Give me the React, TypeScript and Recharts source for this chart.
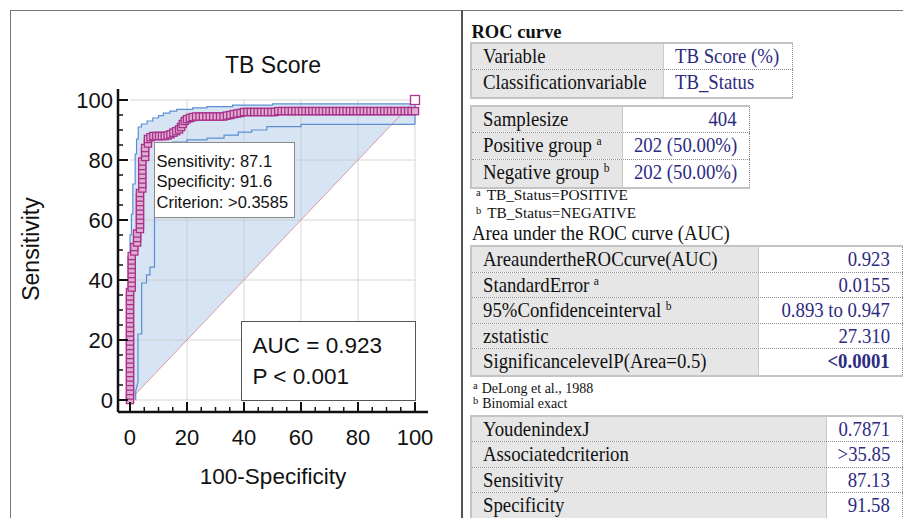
import React from "react";
import { ComposedChart, XAxis, YAxis, Area, Line, Scatter } from "recharts";

// ROC curve points: [100-Specificity, Sensitivity]
const rocCurve: [number, number][] = [
  [0, 0], [0, 1.5], [0, 3], [0, 4.5], [0, 6], [0, 7.5], [0, 9], [0, 10.5], [0, 12], [0, 13.5], [0, 15], [0, 16.5],
  [0, 18], [0, 19.5], [0, 21], [0, 22.5], [0, 24], [0, 25.5], [0, 27], [0, 28.5], [0, 30], [0, 31.5], [0, 33],
  [0, 34.5], [0, 36],
  [0.6, 37.5], [0.6, 39], [0.6, 40.5], [0.6, 42], [0.6, 43.5], [0.6, 45], [0.6, 46.5], [0.6, 48],
  [1.5, 49.5], [1.5, 51],
  [2.5, 52.5], [2.5, 54], [2.5, 55.5],
  [3.5, 57], [3.5, 58.5], [3.5, 60], [3.5, 61.5], [3.5, 63], [3.5, 64.5], [3.5, 66], [3.5, 67.5], [3.5, 69],
  [4.3, 70.5], [4.3, 72], [4.3, 73.5], [4.3, 75], [4.3, 76.5], [4.3, 78], [4.3, 79.5],
  [5.3, 81], [5.3, 82.5], [5.3, 84],
  [6.3, 85.5], [6.3, 87],
  [7.2, 87.6], [8.2, 88], [9.2, 88], [10.2, 88], [11.2, 88], [12.2, 88], [13.2, 88.2], [14.2, 88.6], [15.2, 89.1],
  [16.2, 89.6], [17.2, 90.2], [17.9, 91], [18.5, 92], [19.2, 93], [20, 93.6], [21, 94], [22, 94.3],
  [23.2, 94.5], [24.4, 94.5], [25.6, 94.5], [26.8, 94.5], [28, 94.5], [29.2, 94.5], [30.4, 94.5], [31.6, 94.5],
  [32.8, 94.5], [34, 94.8], [35.2, 95], [36.4, 95.3], [37.6, 95.5], [38.8, 95.7],
  [40, 96], [41.2, 96], [42.4, 96], [43.6, 96], [44.8, 96], [46, 96], [47.2, 96], [48.4, 96], [49.6, 96], [50.8, 96],
  [52, 96.3], [53.2, 96.3], [54.4, 96.3], [55.6, 96.3], [56.8, 96.3], [58, 96.3], [59.2, 96.3], [60.4, 96.3],
  [61.6, 96.3], [62.8, 96.3], [64, 96.3], [65.2, 96.3], [66.4, 96.3], [67.6, 96.3], [68.8, 96.3], [70, 96.3],
  [71.2, 96.3], [72.4, 96.3], [73.6, 96.3], [74.8, 96.3], [76, 96.3], [77.2, 96.3], [78.4, 96.3], [79.6, 96.3],
  [80.8, 96.3], [82, 96.3], [83.2, 96.3], [84.4, 96.3], [85.6, 96.3], [86.8, 96.3], [88, 96.3], [89.2, 96.3],
  [90.4, 96.3], [91.6, 96.3], [92.8, 96.3], [94, 96.3], [95.2, 96.3], [96.4, 96.3], [97.6, 96.3], [98.8, 96.3],
  [100, 96.3],
];
const endPoint: [number, number][] = [[100, 100]];

// 95% confidence bounds
const upperCi: [number, number][] = [
  [0, 0], [0, 55], [0.5, 55], [0.5, 62], [1, 62], [1, 72], [1.8, 72], [1.8, 82], [2.3, 82], [2.3, 87], [2.9, 87],
  [2.9, 91], [4, 91], [4, 92], [6, 92], [6, 93], [8, 93], [8, 94], [10, 94], [10, 94.8], [11.7, 94.8], [11.7, 95.6],
  [14, 95.6], [14, 96.3], [16.4, 96.3], [16.4, 96.9], [22, 96.9], [22, 97.4], [27, 97.4], [27, 97.8], [36, 97.8],
  [36, 98.3], [50, 98.3], [50, 98.7], [100, 98.7], [100, 91.9],
];
const lowerCi: [number, number][] = [
  [2, 0], [2, 3], [2.8, 6], [2.8, 22], [4.1, 22], [4.1, 39], [5.8, 39], [5.8, 41.7], [7, 41.7], [7, 44.3],
  [8.6, 44.3], [8.6, 62], [9.8, 62], [9.8, 84], [11, 84], [11, 85], [15, 85], [15, 86], [20, 86], [20, 86.7],
  [27, 86.7], [27, 87.3], [33, 87.3], [33, 88.3], [38, 88.3], [38, 89.3], [42.7, 89.3], [42.7, 90], [48, 90],
  [48, 91.1], [60, 91.1], [60, 91.9], [100, 91.9],
];
// shaded band: [x, lower edge, upper edge]
const ciBand: [number, number, number][] = [
  [0, 0, 55], [0.5, 0.5, 55], [0.5, 0.5, 62], [1, 1, 62], [1, 1, 72], [1.8, 1.8, 72], [1.8, 1.8, 82],
  [2.3, 2.3, 82], [2.3, 2.3, 87], [2.9, 2.9, 87], [2.9, 2.9, 91], [4, 4, 91], [4, 4, 92], [6, 6, 92], [6, 6, 93],
  [8, 8, 93], [8, 8, 94], [10, 10, 94], [10, 10, 94.8], [11.7, 11.7, 94.8], [11.7, 11.7, 95.6], [14, 14, 95.6],
  [14, 14, 96.3], [16.4, 16.4, 96.3], [16.4, 16.4, 96.9], [22, 22, 96.9], [22, 22, 97.4], [27, 27, 97.4],
  [27, 27, 97.8], [36, 36, 97.8], [36, 36, 98.3], [50, 50, 98.3], [50, 50, 98.7], [91.9, 91.9, 98.7],
  [100, 91.9, 98.7],
];
const diagonal: [number, number][] = [[0, 0], [100, 100]];

const X_DOMAIN: [number, number] = [-4.21, 104.56];
const Y_DOMAIN: [number, number] = [-4, 103.67];
const axisTicks = [0, 5, 10, 15, 20, 25, 30, 35, 40, 45, 50, 55, 60, 65, 70, 75, 80, 85, 90, 95, 100];
const majorTicks = [0, 20, 40, 60, 80, 100];
const gridValues = [20, 40, 60, 80];

const table1 = [
  { label: "Variable", value: "TB Score (%)" },
  { label: "Classificationvariable", value: "TB_Status" },
];
const table2 = [
  { label: "Samplesize", value: "404" },
  { label: "Positive group", sup: "a", value: "202 (50.00%)" },
  { label: "Negative group", sup: "b", value: "202 (50.00%)" },
];
const table3 = [
  { label: "AreaundertheROCcurve(AUC)", value: "0.923" },
  { label: "StandardError", sup: "a", value: "0.0155" },
  { label: "95%Confidenceinterval", sup: "b", value: "0.893 to 0.947" },
  { label: "zstatistic", value: "27.310" },
  { label: "SignificancelevelP(Area=0.5)", value: "<0.0001", bold: true },
];
const table4 = [
  { label: "YoudenindexJ", value: "0.7871" },
  { label: "Associatedcriterion", value: ">35.85" },
  { label: "Sensitivity", value: "87.13" },
  { label: "Specificity", value: "91.58" },
];

const SANS = '"Liberation Sans", Arial, sans-serif';
const SERIF = '"Liberation Serif", "Times New Roman", serif';
const VALUE_COLOR = "#2d2a82";

const toXY = (arr: [number, number][]) => arr.map(([x, y]) => ({ x, y }));

const XTick = (props: any) => {
  const { x, y, payload } = props;
  const v = payload.value;
  const major = majorTicks.includes(v);
  return (
    <g>
      <line x1={x} y1={y} x2={x} y2={y - (major ? 10 : 5)} stroke="#111" strokeWidth={major ? 2 : 1.5} />
      {major && (
        <text x={x} y={y + 32.5} textAnchor="middle" fontSize={22} fontFamily={SANS} fill="#111">
          {v}
        </text>
      )}
    </g>
  );
};

const YTick = (props: any) => {
  const { x, y, payload } = props;
  const v = payload.value;
  const major = majorTicks.includes(v);
  return (
    <g>
      <line x1={x} y1={y} x2={x + (major ? 10 : 5)} y2={y} stroke="#111" strokeWidth={major ? 2 : 1.5} />
      {major && (
        <text x={x - 5} y={y + 8} textAnchor="end" fontSize={22} fontFamily={SANS} fill="#111">
          {v}
        </text>
      )}
    </g>
  );
};

const Marker = (props: any) => {
  const { cx, cy } = props;
  return <rect x={cx - 3.6} y={cy - 3.6} width={7.2} height={7.2} fill="#e0add2" stroke="#a8318a" strokeWidth={1.3} />;
};
const EndMarker = (props: any) => {
  const { cx, cy } = props;
  return <rect x={cx - 4.5} y={cy - 4.5} width={9} height={9} fill="#ffffff" stroke="#b0348c" strokeWidth={1.3} />;
};

const Sx = ({ children, origin }: any) => (
  <span style={{ display: "inline-block", transform: "scaleX(0.92)", transformOrigin: origin, whiteSpace: "nowrap" }}>
    {children}
  </span>
);

const Sup = ({ c }: any) => (
  <span style={{ fontSize: "0.62em", position: "relative", top: "-0.55em", marginLeft: 5 }}>{c}</span>
);

function StatTable({ left, top, labelW, valueW, rowH, rows, align, padL }: any) {
  return (
    <div
      style={{
        position: "absolute",
        left,
        top,
        width: labelW + valueW,
        borderLeft: "2px solid #c4c4c4",
        borderTop: "2px solid #c4c4c4",
        borderBottom: "2px solid #c4c4c4",
        boxSizing: "border-box",
        fontFamily: SERIF,
        fontSize: 20.4,
      }}
    >
      {rows.map((r: any, i: number) => (
        <div
          key={i}
          style={{
            display: "flex",
            height: rowH,
            boxSizing: "border-box",
            borderBottom: i < rows.length - 1 ? "1px dotted #8d8d8d" : "none",
            lineHeight: `${rowH - 1}px`,
          }}
        >
          <div
            style={{
              width: labelW - 2,
              background: "#e6e6e6",
              borderRight: "1px solid #c9c9c9",
              boxSizing: "border-box",
              paddingLeft: 10.5,
              color: "#111",
              overflow: "visible",
            }}
          >
            <Sx origin="left center">
              {r.label}
              {r.sup && <Sup c={r.sup} />}
            </Sx>
          </div>
          <div
            style={{
              width: valueW,
              boxSizing: "border-box",
              borderRight: "1px dotted #8d8d8d",
              textAlign: align,
              paddingLeft: align === "left" ? padL : 0,
              paddingRight: align === "right" ? 11.5 : 0,
              color: VALUE_COLOR,
              fontWeight: r.bold ? "bold" : "normal",
              background: "#fff",
            }}
          >
            <Sx origin={align === "right" ? "right center" : "left center"}>{r.value}</Sx>
          </div>
        </div>
      ))}
    </div>
  );
}

const Foot = ({ top, left, sup, text, size, gap }: any) => (
  <div
    style={{
      position: "absolute",
      top,
      left,
      fontFamily: SERIF,
      fontSize: size,
      lineHeight: "17px",
      color: "#111",
      whiteSpace: "nowrap",
    }}
  >
    <span style={{ fontSize: 10.5, position: "relative", top: -4, marginRight: gap }}>{sup}</span>
    {text}
  </div>
);

const GRID = { stroke: "#c4c4c4", strokeOpacity: 0.7, strokeWidth: 1 };

export default function App() {
  const bandData = ciBand.map(([x, lo, hi]) => ({ x, range: [lo, hi] }));
  return (
    <div
      style={{
        position: "absolute",
        left: 0,
        top: 0,
        width: 903,
        height: 518,
        overflow: "hidden",
        background: "#fff",
      }}
    >
      {/* frame lines */}
      <div style={{ position: "absolute", left: 9.5, top: 10, width: 900, height: 0, borderTop: "1.8px solid #777" }} />
      <div style={{ position: "absolute", left: 9.5, top: 10, width: 0, height: 520, borderLeft: "1.8px solid #777" }} />
      <div style={{ position: "absolute", left: 460.5, top: 10, width: 0, height: 520, borderLeft: "2px solid #555" }} />

      {/* chart */}
      <div style={{ position: "absolute", left: 0, top: 0 }}>
        <ComposedChart width={460} height={518} margin={{ top: 89, right: 32, bottom: 105, left: 117 }}>
          <XAxis
            type="number"
            dataKey="x"
            domain={X_DOMAIN}
            ticks={axisTicks}
            interval={0}
            allowDataOverflow
            height={1}
            tickLine={false}
            tickSize={0}
            tickMargin={0}
            axisLine={{ stroke: "#111", strokeWidth: 2.5 }}
            tick={XTick}
          />
          <YAxis
            type="number"
            dataKey="y"
            domain={Y_DOMAIN}
            ticks={axisTicks}
            interval={0}
            allowDataOverflow
            width={1}
            tickLine={false}
            tickSize={0}
            tickMargin={0}
            axisLine={{ stroke: "#111", strokeWidth: 2.5 }}
            tick={YTick}
          />
          <Area
            data={bandData}
            dataKey="range"
            type="linear"
            stroke="none"
            fill="#c7daee"
            fillOpacity={0.72}
            isAnimationActive={false}
          />
          <Line data={[{ x: gridValues[0], y: 0 }, { x: gridValues[0], y: 100 }]} dataKey="y" type="linear" {...GRID} dot={false} isAnimationActive={false} />
          <Line data={[{ x: gridValues[1], y: 0 }, { x: gridValues[1], y: 100 }]} dataKey="y" type="linear" {...GRID} dot={false} isAnimationActive={false} />
          <Line data={[{ x: gridValues[2], y: 0 }, { x: gridValues[2], y: 100 }]} dataKey="y" type="linear" {...GRID} dot={false} isAnimationActive={false} />
          <Line data={[{ x: gridValues[3], y: 0 }, { x: gridValues[3], y: 100 }]} dataKey="y" type="linear" {...GRID} dot={false} isAnimationActive={false} />
          <Line data={[{ x: 100, y: 0 }, { x: 100, y: 100 }]} dataKey="y" type="linear" {...GRID} dot={false} isAnimationActive={false} />
          <Line data={[{ x: 0, y: 0 }, { x: 100, y: 0 }]} dataKey="y" type="linear" {...GRID} dot={false} isAnimationActive={false} />
          <Line data={[{ x: 0, y: gridValues[0] }, { x: 100, y: gridValues[0] }]} dataKey="y" type="linear" {...GRID} dot={false} isAnimationActive={false} />
          <Line data={[{ x: 0, y: gridValues[1] }, { x: 100, y: gridValues[1] }]} dataKey="y" type="linear" {...GRID} dot={false} isAnimationActive={false} />
          <Line data={[{ x: 0, y: gridValues[2] }, { x: 100, y: gridValues[2] }]} dataKey="y" type="linear" {...GRID} dot={false} isAnimationActive={false} />
          <Line data={[{ x: 0, y: gridValues[3] }, { x: 100, y: gridValues[3] }]} dataKey="y" type="linear" {...GRID} dot={false} isAnimationActive={false} />
          <Line data={[{ x: 0, y: 100 }, { x: 100, y: 100 }]} dataKey="y" type="linear" {...GRID} dot={false} isAnimationActive={false} />
          <Line data={toXY(diagonal)} dataKey="y" type="linear" stroke="#d99aa8" strokeWidth={1} dot={false} isAnimationActive={false} />
          <Line data={toXY(upperCi)} dataKey="y" type="linear" stroke="#5a8fd4" strokeWidth={1.2} dot={false} isAnimationActive={false} />
          <Line data={toXY(lowerCi)} dataKey="y" type="linear" stroke="#5a8fd4" strokeWidth={1.2} dot={false} isAnimationActive={false} />
          <Line data={toXY(rocCurve)} dataKey="y" type="linear" stroke="#a8318a" strokeWidth={1} dot={false} isAnimationActive={false} />
          <Scatter data={toXY(rocCurve)} dataKey="y" shape={Marker} isAnimationActive={false} />
          <Scatter data={toXY(endPoint)} dataKey="y" shape={EndMarker} isAnimationActive={false} />
        </ComposedChart>
      </div>

      {/* chart texts */}
      <div style={{ position: "absolute", left: 173, top: 51, width: 200, textAlign: "center", fontFamily: SANS, fontSize: 23, lineHeight: "28px", color: "#111" }}>
        TB Score
      </div>
      <div style={{ position: "absolute", left: 173, top: 463, width: 200, textAlign: "center", fontFamily: SANS, fontSize: 22.5, lineHeight: "28px", color: "#111" }}>
        100-Specificity
      </div>
      <div
        style={{
          position: "absolute",
          left: 31 - 80,
          top: 249 - 14,
          width: 160,
          textAlign: "center",
          fontFamily: SANS,
          fontSize: 23,
          lineHeight: "28px",
          color: "#111",
          transform: "rotate(-90deg)",
          transformOrigin: "80px 14px",
        }}
      >
        Sensitivity
      </div>

      {/* annotation boxes */}
      <div
        style={{
          position: "absolute",
          left: 153.5,
          top: 141.5,
          width: 141,
          height: 76,
          boxSizing: "border-box",
          border: "1.2px solid #8a8a8a",
          background: "#fff",
          fontFamily: SANS,
          fontSize: 16.5,
          lineHeight: "20.8px",
          paddingTop: 8,
          paddingLeft: 2,
          color: "#111",
          whiteSpace: "nowrap",
        }}
      >
        <div>Sensitivity: 87.1</div>
        <div>Specificity: 91.6</div>
        <div>Criterion: &gt;0.3585</div>
      </div>
      <div
        style={{
          position: "absolute",
          left: 240.5,
          top: 320.5,
          width: 175.5,
          height: 80,
          boxSizing: "border-box",
          border: "1.6px solid #555",
          background: "#fff",
          fontFamily: SANS,
          fontSize: 22.5,
          lineHeight: "31.7px",
          paddingTop: 8,
          paddingLeft: 11,
          color: "#111",
          whiteSpace: "nowrap",
        }}
      >
        <div>AUC = 0.923</div>
        <div>P &lt; 0.001</div>
      </div>

      {/* right panel */}
      <div style={{ position: "absolute", left: 471.5, top: 20, fontFamily: SERIF, fontSize: 18.5, fontWeight: "bold", lineHeight: "24px", color: "#111" }}>
        ROC curve
      </div>
      <StatTable left={470} top={41.5} labelW={194} valueW={128.5} rowH={26.8} rows={table1} align="left" padL={10.5} />
      <StatTable left={470} top={104.5} labelW={152.5} valueW={127} rowH={26.7} rows={table2} align="right" />
      <Foot top={185.5} left={476} sup="a" text="TB_Status=POSITIVE" size={15.3} gap={6} />
      <Foot top={204} left={476} sup="b" text="TB_Status=NEGATIVE" size={15.3} gap={6} />
      <div style={{ position: "absolute", left: 471.5, top: 221, fontFamily: SERIF, fontSize: 20.4, lineHeight: "24px", color: "#111", whiteSpace: "nowrap" }}>
        <Sx origin="left center">Area under the ROC curve (AUC)</Sx>
      </div>
      <StatTable left={470} top={245} labelW={288.5} valueW={144} rowH={25.6} rows={table3} align="right" />
      <Foot top={379.5} left={473} sup="a" text="DeLong et al., 1988" size={14} gap={4} />
      <Foot top={394.5} left={473} sup="b" text="Binomial exact" size={14} gap={4} />
      <StatTable left={470} top={414.5} labelW={357} valueW={75.5} rowH={25.6} rows={table4} align="right" />
    </div>
  );
}
